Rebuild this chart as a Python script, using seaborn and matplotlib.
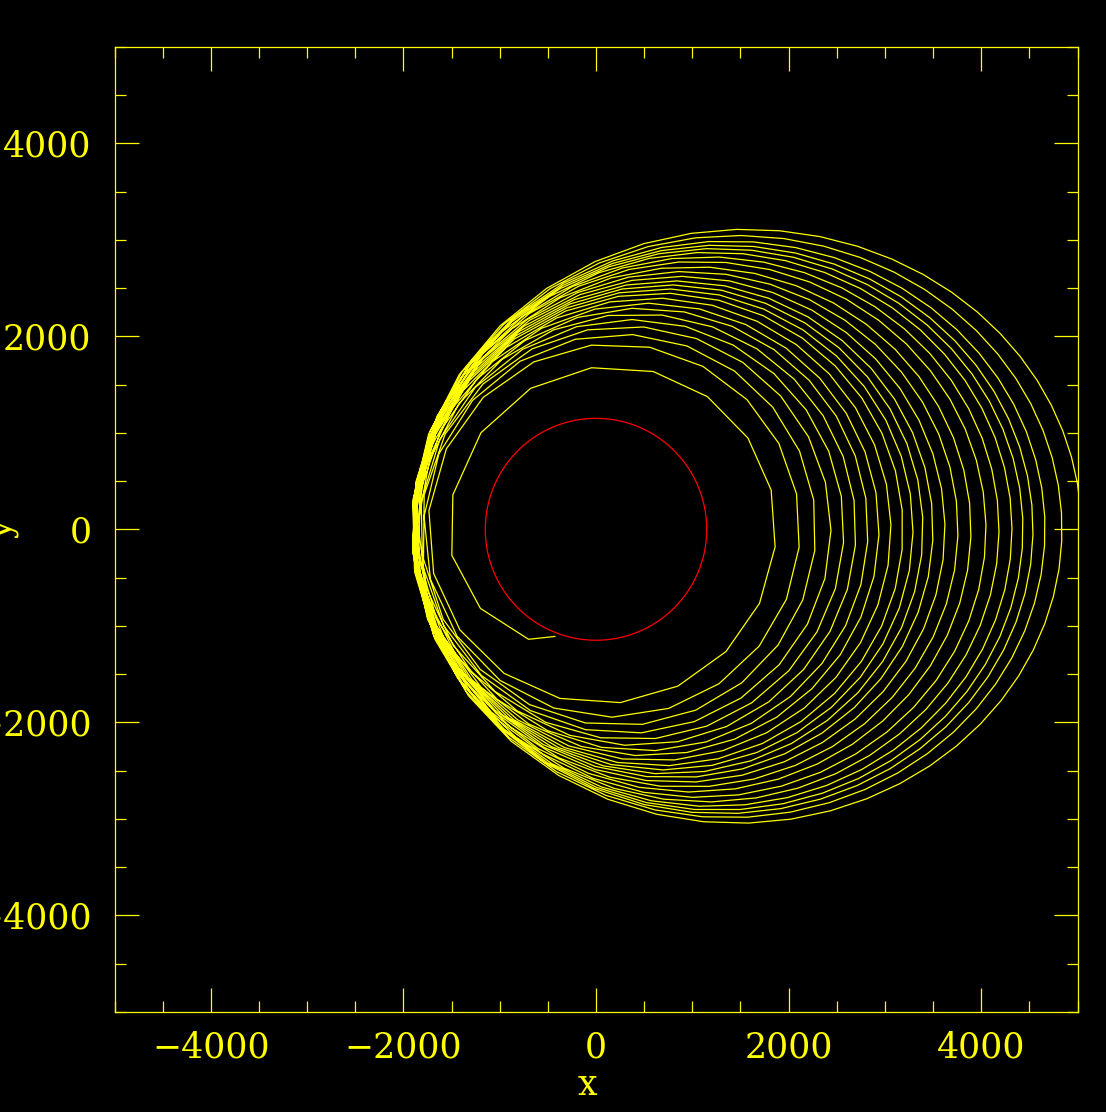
import numpy as np
import pandas as pd
import matplotlib
matplotlib.use("Agg")
import matplotlib.pyplot as plt
import seaborn as sns
from matplotlib.ticker import MultipleLocator

# ---- data ----
# first vertices of the trajectory (leaving the body's surface)
launch_x = [-425, -700, -1200, -1497]
launch_y = [-1110, -1140, -820, -270]
# per revolution: periapsis distance (left side) and apoapsis distance (right side)
periapsis = [1525, 1745, 1790, 1815, 1835, 1850, 1860, 1868, 1875, 1880, 1885, 1889,
             1893, 1896, 1899, 1902, 1904, 1906, 1908, 1910, 1912, 1914, 1916, 1918]
apoapsis = [1869, 2118, 2284, 2440, 2575, 2700, 2825, 2939, 3063, 3188, 3292, 3396,
            3500, 3624, 3759, 3894, 4050, 4185, 4320, 4434, 4538, 4663, 4839, 5040]
body_radius = 1150
steps_first_rev = 16.4

YEL = "#ffff00"
RED = "#ff0000"


def solve_E(M, e):
    E = np.array(M, dtype=float)
    for _ in range(40):
        E = E - (E - e * np.sin(E) - M) / (1 - e * np.cos(E))
    return E


# build the trajectory: half orbits sampled at equal time steps
traj_x = list(launch_x)
traj_y = list(launch_y)
a1 = (periapsis[0] + apoapsis[0]) / 2
n1 = 2 * np.pi / steps_first_rev
t_global = 0.5
T0 = 0.0
nrev = len(apoapsis)
for k in range(nrev):
    halves = [(periapsis[k], apoapsis[k], 0.0)]
    if k < nrev - 1:
        halves.append((periapsis[k + 1], apoapsis[k], np.pi))
    for rp, ra, M0 in halves:
        a = (rp + ra) / 2
        e = (ra - rp) / (ra + rp)
        b = np.sqrt(rp * ra)
        n = n1 * (a1 / a) ** 1.5
        dur = np.pi / n
        ts = []
        while t_global < T0 + dur:
            ts.append(t_global)
            t_global += 1.0
        if ts:
            M = M0 + n * (np.array(ts) - T0)
            E = solve_E(M, e)
            traj_x.extend(a * (e - np.cos(E)))
            traj_y.extend(b * np.sin(E))
        T0 += dur
# end at the last apoapsis
traj_x.append(apoapsis[-1])
traj_y.append(0.0)

traj = pd.DataFrame({"x": traj_x, "y": traj_y})
ang = np.linspace(0, 2 * np.pi, 361)
body = pd.DataFrame({"x": body_radius * np.cos(ang), "y": body_radius * np.sin(ang)})

sns.set_style("dark", rc={"axes.facecolor": "black", "figure.facecolor": "black",
                          "axes.edgecolor": YEL, "axes.grid": False})
plt.rcParams["font.family"] = ["DejaVu Serif"]
plt.rcParams["axes.unicode_minus"] = True

fig = plt.figure(figsize=(11.06, 11.12), dpi=100)
fig.patch.set_facecolor("black")
ax = fig.add_axes([0.10353, 0.09011, 0.87071, 0.86781])
ax.set_facecolor("black")

sns.lineplot(data=body, x="x", y="y", sort=False, estimator=None, color=RED,
             linewidth=0.9, ax=ax)
sns.lineplot(data=traj, x="x", y="y", sort=False, estimator=None, color=YEL,
             linewidth=0.9, ax=ax)

ax.set_xlim(-5000, 5000)
ax.set_ylim(-5000, 5000)
ax.xaxis.set_major_locator(MultipleLocator(2000))
ax.yaxis.set_major_locator(MultipleLocator(2000))
ax.xaxis.set_minor_locator(MultipleLocator(500))
ax.yaxis.set_minor_locator(MultipleLocator(500))
ax.tick_params(which="both", direction="in", top=True, right=True, bottom=True, left=True,
               colors=YEL, width=0.9)
ax.tick_params(which="major", length=17.3, labelsize=25)
ax.tick_params(which="minor", length=7.9)
ax.tick_params(axis="x", which="major", pad=13.5)
ax.tick_params(axis="y", which="major", pad=16.5)
for lab in ax.get_xticklabels() + ax.get_yticklabels():
    lab.set_color(YEL)
for sp in ax.spines.values():
    sp.set_color(YEL)
    sp.set_linewidth(0.9)
    sp.set_visible(True)

ax.set_xlabel("x", color=YEL, fontsize=25)
ax.set_ylabel("y", color=YEL, fontsize=25)
ax.xaxis.label.set_va("baseline")
ax.xaxis.set_label_coords(0.4907, -0.0862)
ax.yaxis.label.set_rotation_mode("anchor")
ax.yaxis.label.set_va("baseline")
ax.yaxis.label.set_ha("center")
ax.yaxis.set_label_coords(-0.1064, 0.5)
ax.grid(False)

fig.savefig("out.png", dpi=100, facecolor="black")
